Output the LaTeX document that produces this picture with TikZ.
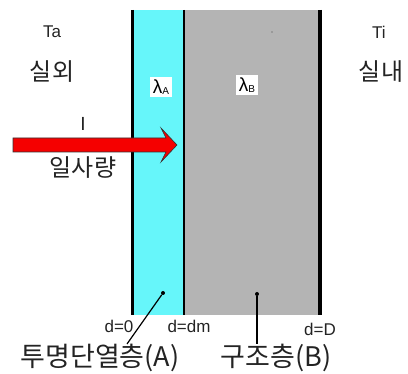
\documentclass[tikz,border=0pt]{standalone}
\usepackage{fontspec}
\setmainfont{Liberation Sans}
\newfontfamily\krfont{Noto Sans CJK KR}
\usetikzlibrary{positioning}
\definecolor{layerA}{RGB}{102,246,250}
\definecolor{layerB}{RGB}{180,180,180}
\definecolor{sunred}{RGB}{245,0,0}
\definecolor{txt}{RGB}{35,35,35}

\begin{document}
\begin{tikzpicture}[x=1pt,y=-1pt,
  lat/.style={font=\fontsize{17}{17}\selectfont,text=txt,inner sep=0pt},
  kor/.style={font=\krfont\fontsize{24}{24}\selectfont,text=txt,inner sep=0pt},
  big/.style={font=\krfont\fontsize{27}{27}\selectfont,text=txt,inner sep=0pt},
  lam/.style={fill=white,inner sep=3pt,font=\fontsize{19}{19}\selectfont},
  pin/.style={circle,fill=black,inner sep=0pt,minimum size=4pt}]
  \useasboundingbox (0,0) rectangle (408,374);
  % layers
  \fill[layerA] (133,10) rectangle (184,315);
  \fill[layerB] (184,10) rectangle (320,315);
  \draw[line width=3pt] (132,10) -- (132,315);
  \draw[line width=2.5pt] (184,10) -- (184,315);
  \draw[line width=3.5pt] (320,10) -- (320,315);
  \fill[gray] (272,32) circle (0.8);
  \node[lam] (lamA) at (161,87) {λ\raisebox{-0.5pt}{\fontsize{10}{10}\selectfont A}};
  \node[lam] (lamB) at (247,85) {λ\raisebox{-0.5pt}{\fontsize{10}{10}\selectfont B}};
  % outside / inside
  \node[lat] (Ta) at (52,32) {Ta};
  \node[kor] (out) at (52,72) {실외};
  \node[lat] (Ti) at (379,32) {Ti};
  \node[kor] (in) at (381,72) {실내};
  % solar radiation
  \fill[sunred,draw=black!80,line width=0.6pt] (13,138) -- (166,138) -- (161,128)
    -- (177,145) -- (161,162) -- (166,152) -- (13,152) -- cycle;
  \node[lat,font=\fontsize{19}{19}\selectfont] (I) at (83,124) {I};
  \node[kor] (sol) at (83,168) {일사량};
  % positions
  \node[lat] (d0) at (119,326) {d=0};
  \node[lat] (dm) at (189,326) {d=dm};
  \node[lat] (dD) at (320,329) {d=D};
  % layer names
  \node[pin] (pA) at (163,293) {};
  \node[pin] (pB) at (257,294) {};
  \node[big] (nameA) at (100,358) {투명단열층(A)};
  \node[big] (nameB) at (276,358) {구조층(B)};
  \draw[line width=1.2pt] (pA) -- ([xshift=27pt]nameA.north);
  \draw[line width=1.2pt] (pB) -- (pB |- nameB.north);
\end{tikzpicture}
\end{document}
